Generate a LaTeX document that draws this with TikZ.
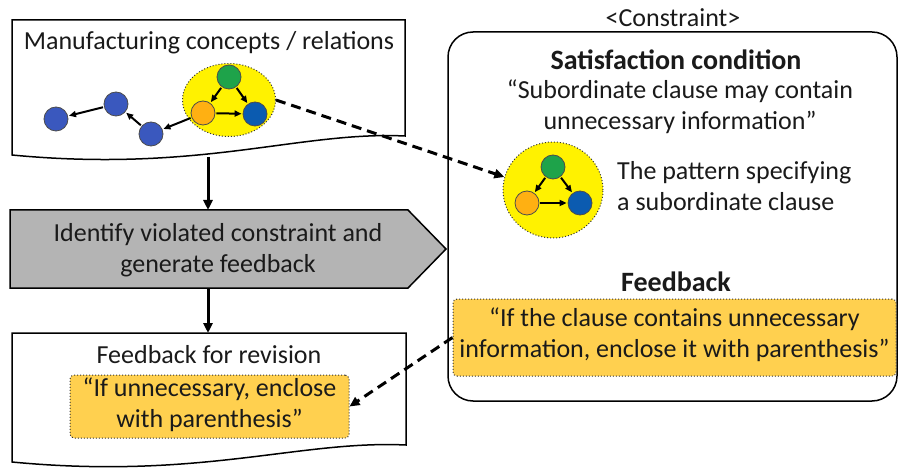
\documentclass[tikz,border=0pt]{standalone}
\usepackage{fontspec}
\setmainfont{Carlito}
\usetikzlibrary{arrows.meta,shapes.geometric}
\definecolor{nblue}{HTML}{3A58BE}
\definecolor{dblue}{HTML}{0B5BB0}
\definecolor{ngreen}{HTML}{1EA34A}
\definecolor{norange}{HTML}{FFB012}
\definecolor{fbfill}{HTML}{FFD04F}
\definecolor{greyfill}{HTML}{B4B4B4}
\definecolor{txt}{HTML}{1A1A1A}
\tikzset{
  txtstyle/.style={font=\fontsize{26}{31}\selectfont, text=txt, align=center, inner sep=0},
  boldtxt/.style={txtstyle, font=\fontsize{28}{31}\selectfont\bfseries},
  gnode/.style={circle, draw=black!70, line width=0.8pt, minimum size=24, inner sep=0},
  garr/.style={-{Triangle[length=7pt,width=6pt]}, line width=2pt, shorten <=1pt, shorten >=1pt},
  mainarr/.style={-{Triangle[length=10pt,width=9pt]}, line width=3pt},
  dasharr/.style={-{Triangle[length=10pt,width=9pt]}, line width=3pt, dash pattern=on 10pt off 6pt},
  hilite/.style={ellipse, draw=black!80, dotted, line width=1pt, fill=yellow, inner sep=0},
  fbbox/.style={draw=black!80, dotted, line width=1pt, fill=fbfill, rounded corners=4pt, inner sep=0},
}
\begin{document}
\begin{tikzpicture}[x=1pt,y=-1pt]
\useasboundingbox (0,0) rectangle (899,470);
% top document shape
\draw[line width=1.5pt, fill=white] (12,20) -- (405,20) -- (405,136)
  .. controls (300,131) and (200,173) .. (12,155) -- cycle;
\node[txtstyle] (t1) at (209,43) {Manufacturing concepts / relations};
% graph in top box
\node[hilite, minimum width=93, minimum height=73] (e1) at (229,100) {};
\node[gnode, fill=nblue] (b1) at (56,119) {};
\node[gnode, fill=nblue] (b2) at (116,104) {};
\node[gnode, fill=nblue] (b3) at (151,134) {};
\node[gnode, fill=norange] (o1) at (203,113) {};
\node[gnode, fill=ngreen] (g1) at (229,77) {};
\node[gnode, fill=dblue] (d1) at (255,114) {};
\draw[garr] (b2) -- (b1);
\draw[garr] (b3) -- (b2);
\draw[garr] (o1) -- (b3);
\draw[garr] (g1) -- (o1);
\draw[garr] (g1) -- (d1);
\draw[garr] (o1) -- (d1);
% grey process shape
\draw[line width=1.5pt, fill=greyfill] (10,210) -- (408,210) -- (446,249) -- (408,288) -- (10,288) -- cycle;
\node[txtstyle] (proc) at (218,250) {Identify violated constraint and\\generate feedback};
\coordinate (c1) at (208,157);
\coordinate (c2) at (208,210);
\coordinate (c3) at (208,288);
\coordinate (c4) at (208,333);
\draw[mainarr] (c1) -- (c2);
\draw[mainarr] (c3) -- (c4);
% bottom document shape
\draw[line width=1.5pt, fill=white] (12,333) -- (406,333) -- (406,445)
  .. controls (300,440) and (200,480) .. (12,462) -- cycle;
\node[txtstyle] (t2) at (209,355) {Feedback for revision};
\node[fbbox, minimum width=279, minimum height=63] (fbr) at (209.5,406.5) {};
\node[txtstyle] (t3) at (209.5,405) {“If unnecessary, enclose\\with parenthesis”};
% constraint box
\node[txtstyle] (cons) at (673,18) {<Constraint>};
\draw[line width=1.5pt, rounded corners=25pt] (448,32) rectangle (897,401);
\node[boldtxt] (sat) at (676,60) {Satisfaction condition};
\node[txtstyle] (q1) at (680,107) {“Subordinate clause may contain\\unnecessary information”};
\node[hilite, minimum width=100, minimum height=96] (e2) at (553,190) {};
\node[gnode, fill=ngreen] (g2) at (553,167) {};
\node[gnode, fill=norange] (o2) at (527,203) {};
\node[gnode, fill=dblue] (d2) at (580,203) {};
\draw[garr] (g2) -- (o2);
\draw[garr] (g2) -- (d2);
\draw[garr] (o2) -- (d2);
\node[txtstyle, align=left, anchor=west] (pat) at (617,186) {The pattern specifying\\a subordinate clause};
\node[boldtxt] (fbt) at (676,282) {Feedback};
\node[fbbox, minimum width=443, minimum height=77] (fb) at (674.5,337.5) {};
\node[txtstyle] (t4) at (674.5,335) {“If the clause contains unnecessary\\information, enclose it with parenthesis”};
% dashed connectors
\draw[dasharr] (e1.east) -- (e2.165);
\draw[dasharr] (fb.west) -- (fbr.east);
\end{tikzpicture}
\end{document}
